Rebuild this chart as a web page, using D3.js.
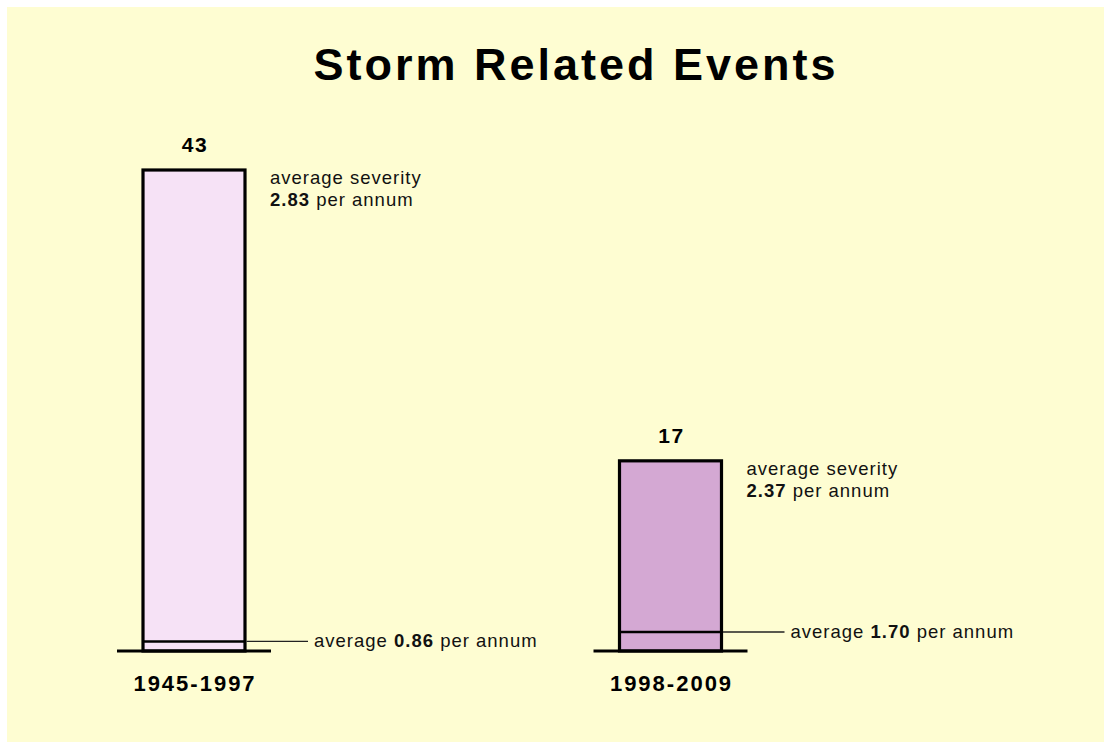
<!DOCTYPE html>
<html>
<head>
<meta charset="utf-8">
<script src="https://cdn.jsdelivr.net/npm/d3@7"></script>
<style>
  html, body { margin: 0; padding: 0; background: #ffffff; }
  svg { display: block; font-family: "Liberation Sans", Arial, Helvetica, sans-serif; }
</style>
</head>
<body>
<svg id="chart" width="1104" height="742"></svg>
<script>
// ---- data ----
const title = "Storm Related Events";
const categories = ["1945-1997", "1998-2009"];
const totalEvents = [43, 17];
const avgPerAnnum = [0.86, 1.70];
const avgSeverity = [2.83, 2.37];
const barColors = ["#f6e2f6", "#d4a8d3"];

const W = 1104, H = 742;
const svg = d3.select("#chart");

// background panel
svg.append("rect").attr("x", 7).attr("y", 7).attr("width", W - 7).attr("height", H - 7)
  .attr("fill", "#fefdd2");

// title
svg.append("text")
  .attr("x", 576).attr("y", 80)
  .attr("text-anchor", "middle")
  .attr("font-size", 45).attr("font-weight", "bold")
  .attr("letter-spacing", "3px")
  .attr("fill", "#000")
  .text(title);

// scales
const x = d3.scalePoint().domain(categories).range([194, 670.5]);
const y = d3.scaleLinear().domain([0, 43]).range([651, 170]);
const barW = 102;
const baseExt = 26;

const data = categories.map((c, i) => ({
  cat: c, total: totalEvents[i], avg: avgPerAnnum[i], sev: avgSeverity[i], color: barColors[i]
}));

const g = svg.selectAll("g.bar").data(data).enter().append("g").attr("class", "bar");

// bar body
g.append("rect")
  .attr("x", d => x(d.cat) - barW / 2)
  .attr("y", d => y(d.total))
  .attr("width", barW)
  .attr("height", d => y(0) - y(d.total))
  .attr("fill", d => d.color)
  .attr("stroke", "#000")
  .attr("stroke-width", 3.2);

// average per annum line inside bar
g.append("line")
  .attr("x1", d => x(d.cat) - barW / 2)
  .attr("x2", d => x(d.cat) + barW / 2)
  .attr("y1", d => y(d.avg))
  .attr("y2", d => y(d.avg))
  .attr("stroke", "#000")
  .attr("stroke-width", 2.5);

// connector line
g.append("line")
  .attr("x1", d => x(d.cat) + barW / 2 + 1.5)
  .attr("x2", d => x(d.cat) + barW / 2 + 63)
  .attr("y1", d => y(d.avg))
  .attr("y2", d => y(d.avg))
  .attr("stroke", "#222")
  .attr("stroke-width", 1.3);

// connector label
const avgT = g.append("text")
  .attr("x", d => x(d.cat) + barW / 2 + 69)
  .attr("y", d => y(d.avg) + 6)
  .attr("font-size", 18.5).attr("letter-spacing", "1px").attr("fill", "#111");
avgT.append("tspan").text("average ");
avgT.append("tspan").attr("font-weight", "bold").text(d => d.avg.toFixed(2));
avgT.append("tspan").text(" per annum");

// baseline
g.append("line")
  .attr("x1", d => x(d.cat) - barW / 2 - baseExt)
  .attr("x2", d => x(d.cat) + barW / 2 + baseExt)
  .attr("y1", y(0)).attr("y2", y(0))
  .attr("stroke", "#000").attr("stroke-width", 3);

// value label
g.append("text")
  .attr("x", d => x(d.cat) + 1)
  .attr("y", d => y(d.total) - 18)
  .attr("text-anchor", "middle")
  .attr("font-size", 21).attr("font-weight", "bold")
  .attr("letter-spacing", "1.5px")
  .attr("fill", "#000")
  .text(d => d.total);

// severity annotation
const sevX = d => x(d.cat) + barW / 2 + 25;
g.append("text")
  .attr("x", sevX)
  .attr("y", d => y(d.total) + 14)
  .attr("font-size", 18.5).attr("letter-spacing", "1px").attr("fill", "#111")
  .text("average severity");
const sevT = g.append("text")
  .attr("x", sevX)
  .attr("y", d => y(d.total) + 36)
  .attr("font-size", 18.5).attr("letter-spacing", "1px").attr("fill", "#111");
sevT.append("tspan").attr("font-weight", "bold").text(d => d.sev.toFixed(2));
sevT.append("tspan").text(" per annum");

// category label
g.append("text")
  .attr("x", d => x(d.cat) + 1)
  .attr("y", y(0) + 40)
  .attr("text-anchor", "middle")
  .attr("font-size", 22).attr("font-weight", "bold")
  .attr("letter-spacing", "2px")
  .attr("fill", "#000")
  .text(d => d.cat);
</script>
</body>
</html>
